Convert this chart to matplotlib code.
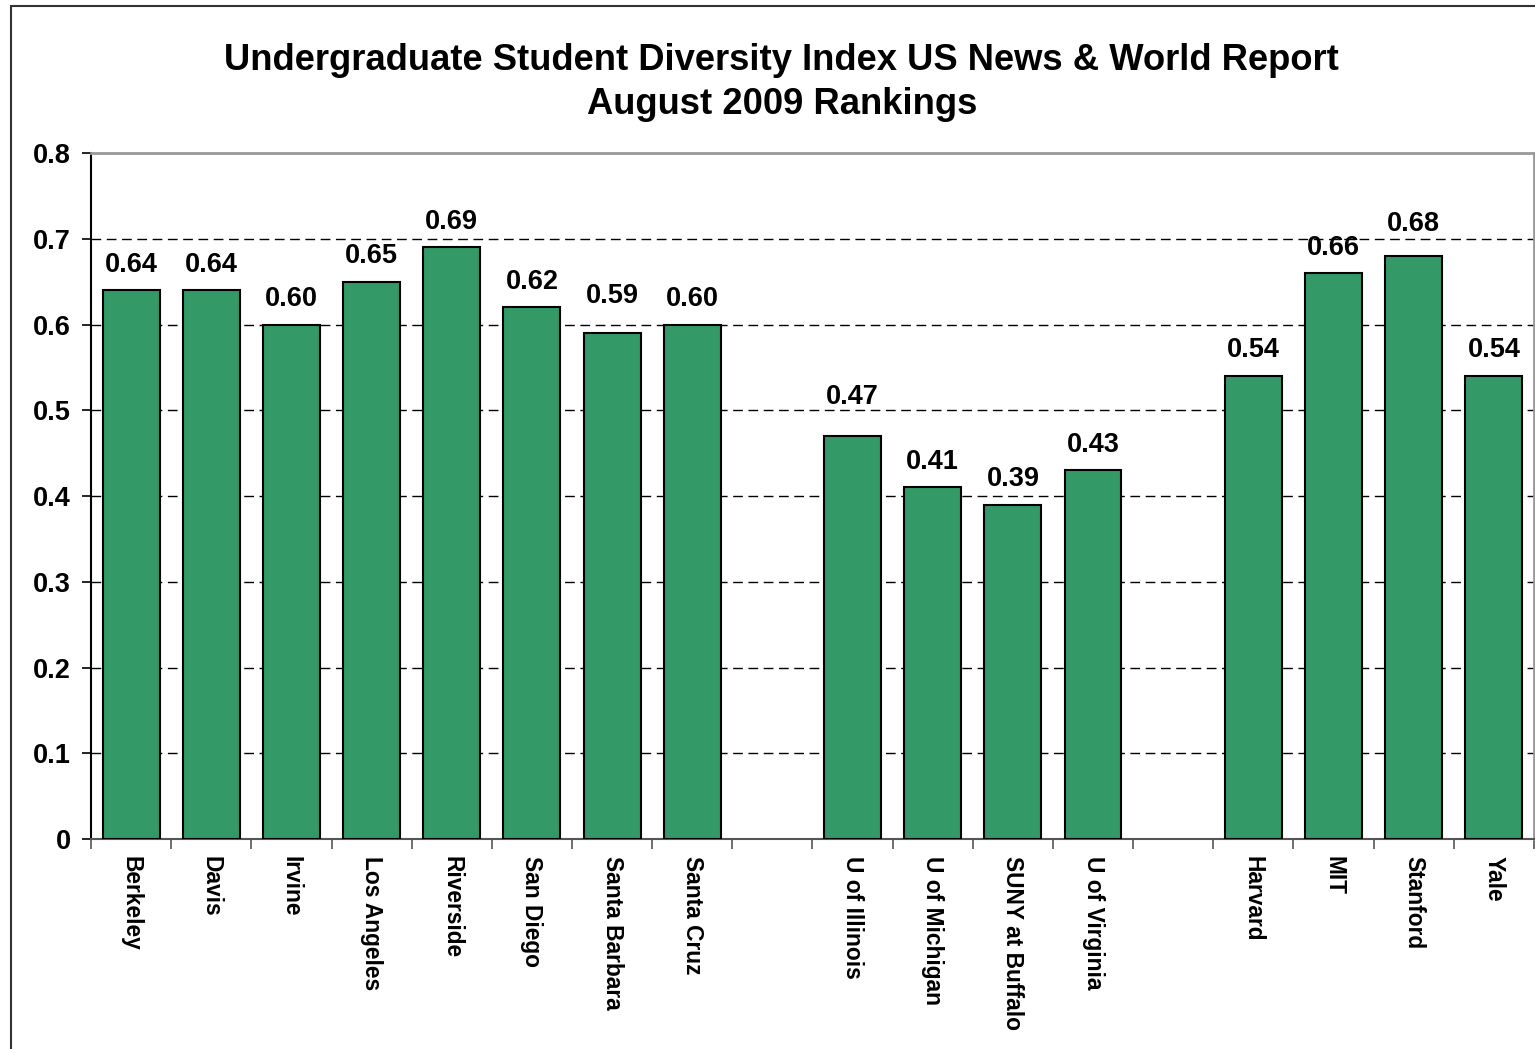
"""
    Undergraduate diversity index bar chart (US News, Aug 2009)
"""

import numpy as np
import matplotlib
matplotlib.use("Agg")
import matplotlib.pyplot as plt
from matplotlib.patches import Rectangle

plt.rcParams['font.family'] = ['Liberation Sans', 'DejaVu Sans']
plt.rcParams['font.weight'] = 'bold'

# empty strings are the gaps between the three groups
schools = ["Berkeley", "Davis", "Irvine", "Los Angeles", "Riverside", "San Diego",
           "Santa Barbara", "Santa Cruz", "",
           "U of Illinois", "U of Michigan", "SUNY at Buffalo", "U of Virginia", "",
           "Harvard", "MIT", "Stanford", "Yale"]
index = [0.64, 0.64, 0.60, 0.65, 0.69, 0.62, 0.59, 0.60, None,
         0.47, 0.41, 0.39, 0.43, None,
         0.54, 0.66, 0.68, 0.54]
yticks = [0, 0.1, 0.2, 0.3, 0.4, 0.5, 0.6, 0.7, 0.8]
ytick_labels = ["0", "0.1", "0.2", "0.3", "0.4", "0.5", "0.6", "0.7", "0.8"]

BAR_COLOR = "#339966"
# a few labels were lifted off the gridlines in the original (points)
label_nudge = {"Santa Barbara": 8, "U of Illinois": 9.5, "Stanford": 4.5}

fig = plt.figure(figsize=(15.35, 10.49), dpi=100)
ax = fig.add_axes([0.0593, 0.2002, 0.9400, 0.6539])

# outer chart frame (only left and top show in the picture)
fig.patches.append(Rectangle((0.0072, -0.05), 1.1, 1.044, transform=fig.transFigure,
                             fill=False, edgecolor="#333333", linewidth=1.5))

x = np.arange(len(schools))
for xi, name, v in zip(x, schools, index):
    if v is None:
        continue
    ax.bar(xi, v, width=0.71, color=BAR_COLOR, edgecolor="black", linewidth=1.5, zorder=3)
    ax.annotate(f"{v:.2f}", (xi, v), xytext=(0, 9 + label_nudge.get(name, 0)),
                textcoords="offset points", ha="center", va="bottom",
                fontsize=19.5, fontweight="bold")

ax.set_xlim(-0.5, len(schools) - 0.5)
ax.set_ylim(0, 0.8)

ax.set_yticks(yticks)
ax.set_yticklabels(ytick_labels, fontsize=19.5, fontweight="bold")
ax.tick_params(axis="y", direction="out", length=6.5, width=1.2, pad=8)

ax.set_xticks(x)
ax.set_xticklabels(schools, rotation=270, fontsize=16.4, fontweight="bold", va="top", ha="center")
ax.tick_params(axis="x", which="major", length=0, pad=12)
ax.set_xticks(np.arange(-0.5, len(schools)), minor=True)
ax.tick_params(axis="x", which="minor", direction="out", length=7, width=1.2, color="#555555")

for y in yticks[1:-1]:
    ax.axhline(y, color="black", linestyle=(0, (7, 4)), linewidth=1.0, zorder=1)

ax.spines["left"].set_color("black")
ax.spines["left"].set_linewidth(1.5)
ax.spines["bottom"].set_color("#555555")
ax.spines["bottom"].set_linewidth(1.5)
ax.spines["top"].set_color("#999999")
ax.spines["top"].set_linewidth(2)
ax.spines["right"].set_color("#999999")
ax.spines["right"].set_linewidth(2)

fig.text(0.5093, 0.942, "Undergraduate Student Diversity Index US News & World Report",
         ha="center", va="center", fontsize=26.2, fontweight="bold")
fig.text(0.5093, 0.900, "August 2009 Rankings",
         ha="center", va="center", fontsize=26.2, fontweight="bold")

fig.savefig("out.png", dpi=100)
